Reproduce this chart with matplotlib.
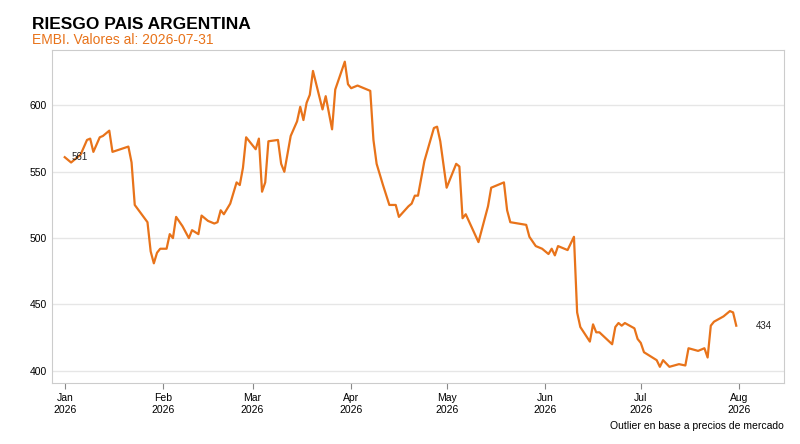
import datetime as dt

import matplotlib

matplotlib.use("Agg")

import matplotlib.dates as mdates
import matplotlib.pyplot as plt

plt.rcParams["font.family"] = ["Liberation Sans", "DejaVu Sans"]

# days since 2026-01-01 and EMBI values
day_offsets = [0, 2, 5, 7, 8, 9, 11, 12, 14, 15, 20, 21, 22, 26, 27, 28, 29, 30, 32, 33,
               34, 35, 37, 39, 40, 42, 43, 45, 47, 48, 49, 50, 52, 53, 54, 55, 56, 57, 60, 61,
               62, 63, 64, 67, 68, 69, 71, 73, 74, 75, 76, 77, 78, 81, 82, 84, 85, 88, 89, 90,
               92, 95, 96, 97, 98, 100, 102, 104, 105, 108, 109, 110, 111, 113, 116, 117, 118, 120, 123, 124,
               125, 126, 130, 133, 134, 138, 139, 140, 145, 146, 148, 150, 152, 153, 154, 155, 158, 160, 161, 162,
               165, 166, 167, 168, 172, 173, 174, 175, 176, 179, 180, 181, 182, 186, 187, 188, 190, 193, 195, 196,
               199, 201, 202, 203, 204, 207, 209, 210, 211]
embi = [561, 557, 563, 574, 575, 565, 576, 577, 581, 565, 569, 557, 525, 512, 490, 481, 489, 492, 492, 503,
        500, 516, 509, 500, 506, 503, 517, 513, 511, 512, 521, 518, 526, 534, 542, 540, 553, 576, 567, 575,
        535, 542, 573, 574, 556, 550, 577, 588, 599, 589, 602, 608, 626, 597, 607, 582, 612, 633, 616, 613,
        615, 612, 611, 574, 556, 540, 525, 525, 516, 524, 526, 532, 532, 558, 583, 584, 573, 538, 556, 554,
        515, 518, 497, 524, 538, 542, 521, 512, 510, 501, 494, 492, 488, 492, 487, 494, 491, 501, 444, 433,
        422, 435, 429, 429, 420, 433, 436, 434, 436, 432, 424, 421, 414, 408, 403, 408, 403, 405, 404, 417,
        415, 417, 410, 434, 437, 441, 445, 444, 434]
subtitle = "EMBI. Valores al: 2026-07-31"
footer = "Outlier en base a precios de mercado"

orange = "#e8731a"
start = dt.date(2026, 1, 1)
dates = [start + dt.timedelta(days=d) for d in day_offsets]

fig = plt.figure(figsize=(8, 4.44), dpi=100)
ax = fig.add_axes([0.065, 0.138, 0.915, 0.75])
ax.plot(dates, embi, color=orange, lw=1.6)
ax.text(dates[0] + dt.timedelta(days=2), embi[0], f"{embi[0]}", fontsize=7, va="center", color="#222222")
ax.text(dates[-1] + dt.timedelta(days=6), embi[-1], f"{embi[-1]}", fontsize=7, va="center", color="#222222")

ax.set_xlim(start - dt.timedelta(days=4.4), start + dt.timedelta(days=226))
ax.set_ylim(391, 642)
ax.set_yticks([400, 450, 500, 550, 600])
ax.grid(axis="y", color="#e6e6e6", lw=1)
ax.set_axisbelow(True)
ax.xaxis.set_major_locator(mdates.MonthLocator())
ax.xaxis.set_major_formatter(mdates.DateFormatter("%b\n%Y"))
ax.tick_params(axis="x", labelsize=7.5, length=4, color="#888888")
ax.tick_params(axis="y", labelsize=7.5, length=0)
for side in ax.spines.values():
    side.set_color("#cccccc")

fig.text(0.04, 0.945, "RIESGO PAIS ARGENTINA", fontsize=12.5, fontweight="bold", va="center")
fig.text(0.04, 0.91, subtitle, fontsize=10, color=orange, va="center")
fig.text(0.98, 0.04, footer, fontsize=7.5, ha="right", va="center")

fig.savefig("out.png", dpi=100)
